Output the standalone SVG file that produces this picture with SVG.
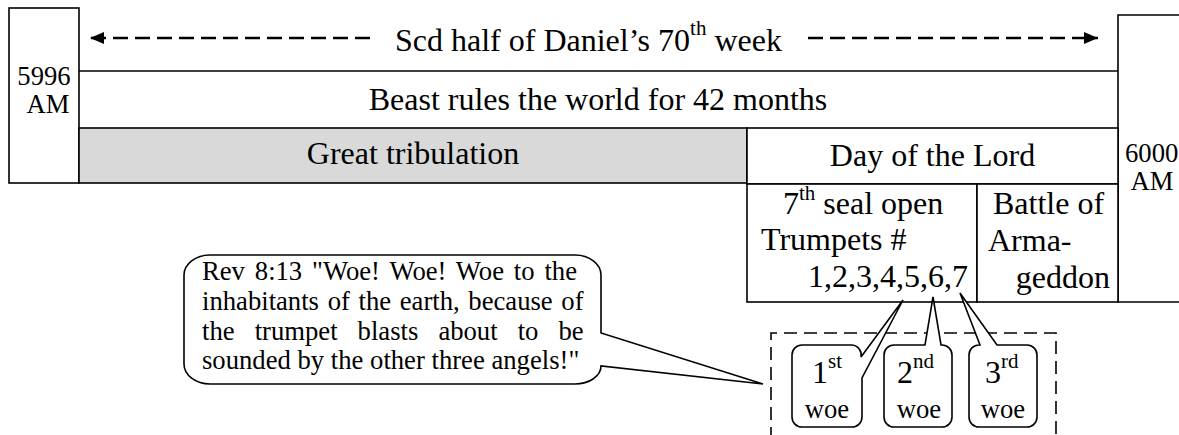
<svg xmlns="http://www.w3.org/2000/svg" width="1179" height="435" viewBox="0 0 1179 435" font-family="'Liberation Serif', 'Times New Roman', serif">
<style>
text{font-family:'Liberation Serif','Times New Roman',serif;fill:#000}
.big{font-size:32px}
.mid{font-size:26.67px}
.sup{font-size:21px}
.ln{stroke:#000;stroke-width:1.6;fill:none}
.box{stroke:#000;stroke-width:1.6;fill:#fff}
.dash{stroke:#000;stroke-width:2.6;stroke-dasharray:15 7;fill:none}
.dbox{stroke:#000;stroke-width:1.6;stroke-dasharray:13 7;fill:none}
.call{stroke:#000;stroke-width:1.6;fill:#fff;stroke-linejoin:miter}
</style>
<defs>
<marker id="ah" viewBox="0 0 14 12" refX="14" refY="6" markerWidth="14" markerHeight="12" markerUnits="userSpaceOnUse" orient="auto">
<path d="M0,0 L14,6 L0,12 Z" fill="#000"/>
</marker>
</defs>
<rect width="1179" height="435" fill="#fff"/>

<g id="start-5996">
<rect class="box" x="9" y="8" width="70" height="175"/>
<text class="mid" x="44" y="85" text-anchor="middle">5996</text>
<text class="mid" x="48" y="113" text-anchor="middle">AM</text>
</g>

<g id="end-6000">
<path class="ln" d="M1182,15 H1118 V302 H1182"/>
<text class="mid" x="1125" y="162">6000</text>
<text class="mid" x="1152" y="190" text-anchor="middle">AM</text>
</g>

<g id="second-half">
<text class="big" x="395" y="51">Scd half of Daniel’s 70<tspan class="sup" dy="-16">th</tspan><tspan dy="16"> week</tspan></text>
</g>

<g id="beast">
<path class="ln" d="M79,71 H1118"/>
<text class="big" x="598" y="110" text-anchor="middle">Beast rules the world for 42 months</text>
</g>

<g id="great-tribulation">
<rect x="79" y="128" width="668" height="55" fill="#d9d9d9" stroke="#000" stroke-width="1.6"/>
<text class="big" x="413" y="164" text-anchor="middle">Great tribulation</text>
</g>

<g id="day-of-lord">
<rect class="box" x="747" y="128" width="371" height="56"/>
<text class="big" x="932.5" y="166" text-anchor="middle">Day of the Lord</text>
</g>

<g id="seventh-seal">
<rect class="box" x="747" y="184" width="230" height="118"/>
<text class="big" x="783" y="214">7<tspan class="sup" dy="-14">th</tspan><tspan dy="14"> seal open</tspan></text>
<text class="big" x="761" y="250">Trumpets #</text>
<text class="big" x="968" y="287" text-anchor="end">1,2,3,4,5,6,7</text>
</g>

<g id="armageddon">
<rect class="box" x="977" y="184" width="141" height="118"/>
<text class="big" x="993" y="214">Battle of</text>
<text class="big" x="988" y="251">Arma-</text>
<text class="big" x="1110" y="288" text-anchor="end">geddon</text>
</g>

<g id="rev-callout">
<path class="call" d="M210,255 H575 A26 20 0 0 1 601,275 V333 L763,384 L601,366 A26 18 0 0 1 575,384 H210 A26 20 0 0 1 184,364 V275 A26 20 0 0 1 210,255 Z"/>
<text class="mid" x="202" y="280" word-spacing="3.2">Rev 8:13 "Woe! Woe! Woe to the</text>
<text class="mid" x="202" y="310" word-spacing="2">inhabitants of the earth, because of</text>
<text class="mid" x="202" y="340" word-spacing="13.4">the trumpet blasts about to be</text>
<text class="mid" x="202" y="369">sounded by the other three angels!"</text>
</g>

<g id="woes-frame">
<path class="dbox" d="M771,440 V333 H1056 V440"/>
</g>

<g id="woe-1">
<path class="call" d="M802,345 H852 A10 10 0 0 1 861,357 L903,300 L862,378 V417 A10 10 0 0 1 852,427 H802 A10 10 0 0 1 792,417 V355 A10 10 0 0 1 802,345 Z"/>
<text class="big" x="812" y="383">1<tspan class="sup" dy="-15">st</tspan></text>
<text class="mid" x="827" y="418" text-anchor="middle">woe</text>
</g>

<g id="woe-2">
<path class="call" d="M894,345 H925 L933,297 L941,345 H942 A10 10 0 0 1 952,355 V417 A10 10 0 0 1 942,427 H894 A10 10 0 0 1 884,417 V355 A10 10 0 0 1 894,345 Z"/>
<text class="big" x="897" y="383">2<tspan class="sup" dy="-15">nd</tspan></text>
<text class="mid" x="919" y="418" text-anchor="middle">woe</text>
</g>

<g id="woe-3">
<path class="call" d="M979,345 H980 L960,293 L997,345 H1027 A10 10 0 0 1 1037,355 V417 A10 10 0 0 1 1027,427 H979 A10 10 0 0 1 969,417 V355 A10 10 0 0 1 979,345 Z"/>
<text class="big" x="985" y="383">3<tspan class="sup" dy="-15">rd</tspan></text>
<text class="mid" x="1003" y="418" text-anchor="middle">woe</text>
</g>

<g id="connectors">
<path class="dash" d="M370,38 H90" marker-end="url(#ah)"/>
<path class="dash" d="M808,38 H1098" marker-end="url(#ah)"/>
</g>
</svg>
